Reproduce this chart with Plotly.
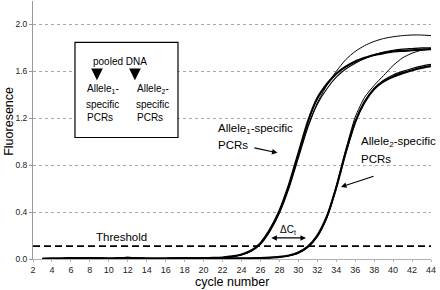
import plotly.graph_objects as go

cycles = list(range(3, 45))

base18 = [0.002, 0.003, 0.004, 0.006, 0.007, 0.006, 0.005, 0.004, 0.006,
          0.009, 0.006, 0.004, 0.003, 0.004, 0.005, 0.006, 0.006, 0.007]
base23 = base18 + [0.008, 0.006, 0.005, 0.005, 0.006]

allele1_a = base18 + [0.009, 0.013, 0.022, 0.038, 0.07, 0.135, 0.25, 0.41, 0.63, 0.90,
                      1.17, 1.37, 1.49, 1.58, 1.64, 1.685, 1.715, 1.74, 1.755, 1.77,
                      1.775, 1.78, 1.785, 1.79]
allele1_b = base18 + [0.008, 0.012, 0.02, 0.035, 0.065, 0.125, 0.235, 0.39, 0.60, 0.86,
                      1.12, 1.32, 1.45, 1.55, 1.62, 1.67, 1.71, 1.74, 1.765, 1.78,
                      1.79, 1.795, 1.80, 1.80]
allele1_c = base18 + [0.008, 0.012, 0.021, 0.037, 0.068, 0.13, 0.245, 0.40, 0.62, 0.88,
                      1.13, 1.33, 1.48, 1.60, 1.70, 1.77, 1.82, 1.855, 1.88, 1.895,
                      1.905, 1.91, 1.91, 1.905]

allele2_a = base23 + [0.008, 0.012, 0.018, 0.03, 0.055, 0.105, 0.20, 0.36, 0.61, 0.91,
                      1.17, 1.34, 1.45, 1.515, 1.555, 1.585, 1.61, 1.63, 1.645]
allele2_b = base23 + [0.007, 0.011, 0.017, 0.028, 0.05, 0.10, 0.19, 0.35, 0.60, 0.90,
                      1.16, 1.34, 1.455, 1.525, 1.57, 1.60, 1.625, 1.645, 1.66]
allele2_c = base23 + [0.007, 0.011, 0.017, 0.028, 0.05, 0.10, 0.19, 0.36, 0.62, 0.93,
                      1.21, 1.38, 1.48, 1.565, 1.65, 1.715, 1.755, 1.78, 1.79]

threshold = 0.11
x_ticks = list(range(2, 46, 2))
y_ticks = [0.0, 0.4, 0.8, 1.2, 1.6, 2.0]

FONT = "Arial, Liberation Sans, sans-serif"

fig = go.Figure()
series = [
    (allele1_a, 2.2), (allele1_b, 1.1), (allele1_c, 1.0),
    (allele2_a, 2.2), (allele2_b, 1.1), (allele2_c, 1.0),
]
for vals, w in series:
    fig.add_trace(go.Scatter(x=cycles, y=vals, mode="lines",
                             line=dict(color="black", width=w, shape="spline", smoothing=0.6),
                             showlegend=False, hoverinfo="skip"))

# threshold line
fig.add_shape(type="line", xref="x", yref="y", x0=2, x1=44, y0=threshold, y1=threshold,
              line=dict(color="black", width=1.6, dash="7px,4px"))

# inset box
fig.add_shape(type="rect", xref="x", yref="y", x0=6.43, x1=17.3, y0=1.036, y1=1.847,
              line=dict(color="black", width=1.2), fillcolor="white", layer="above")

ann = []
def txt(x, y, t, size=10, xanchor="left", **kw):
    ann.append(dict(x=x, y=y, xref="x", yref="y", text=t, showarrow=False,
                    font=dict(family=FONT, size=size, color="black"),
                    xanchor=xanchor, yanchor="middle", **kw))

txt(11.2, 1.685, "pooled DNA", 10, "center")
for col_x, sub in [(7.45, "1"), (12.75, "2")]:
    txt(col_x, 1.446, f"Allele<sub>{sub}</sub>-", 10)
    txt(col_x - 0.05, 1.317, "specific", 10)
    txt(col_x + 0.05, 1.206, "PCRs", 10)

# inset down arrows
for ax_ in [8.75, 12.76]:
    ann.append(dict(x=ax_, y=1.525, ax=ax_, ay=1.615, xref="x", yref="y", axref="x", ayref="y",
                    showarrow=True, arrowhead=2, arrowsize=0.9, arrowwidth=2.6, arrowcolor="black",
                    text=""))

txt(8.4, 0.19, "Threshold", 11.5)
txt(21.35, 1.11, "Allele<sub>1</sub>-specific", 11.5)
txt(21.35, 0.975, "PCRs", 11.5)
txt(36.4, 1.0, "Allele<sub>2</sub>-specific", 11.5)
txt(36.4, 0.85, "PCRs", 11.5)
txt(28.9, 0.25, "ΔC<sub>t</sub>", 10, "center")

# pointer arrows
ann.append(dict(x=27.8, y=0.905, ax=25.2, ay=0.95, xref="x", yref="y", axref="x", ayref="y",
                showarrow=True, arrowhead=2, arrowsize=1, arrowwidth=1.1, arrowcolor="black", text=""))
ann.append(dict(x=34.5, y=0.615, ax=38.1, ay=0.71, xref="x", yref="y", axref="x", ayref="y",
                showarrow=True, arrowhead=2, arrowsize=1, arrowwidth=1.1, arrowcolor="black", text=""))
# delta Ct double arrow
ann.append(dict(x=30.8, y=0.18, ax=27.0, ay=0.18, xref="x", yref="y", axref="x", ayref="y",
                showarrow=True, arrowhead=2, startarrowhead=2, arrowside="end+start",
                arrowsize=1, arrowwidth=1.1, arrowcolor="black", text=""))

# axis titles
ann.append(dict(x=23.0, y=0, xref="x", yref="paper", yshift=-22.5, text="cycle number",
                showarrow=False, font=dict(family=FONT, size=12.5, color="black"),
                xanchor="center", yanchor="middle"))
ann.append(dict(x=0, y=1.17, xref="paper", yref="y", xshift=-24, text="Fluoresence",
                showarrow=False, textangle=-90, font=dict(family=FONT, size=12.5, color="black"),
                xanchor="center", yanchor="middle"))

fig.update_layout(
    width=440, height=290,
    margin=dict(l=33, r=9, t=1, b=31, autoexpand=False),
    paper_bgcolor="white", plot_bgcolor="white",
    annotations=ann,
    font=dict(family=FONT, color="#222"),
)
fig.update_xaxes(range=[2, 44], tickvals=x_ticks, ticktext=[str(v) for v in x_ticks],
                 showgrid=False, zeroline=False, showline=True, linecolor="#b0b0b0", linewidth=1,
                 ticks="outside", ticklen=2, tickcolor="#b0b0b0",
                 tickfont=dict(family=FONT, size=9, color="#222"))
fig.update_yaxes(range=[0, 2.2], tickvals=y_ticks, ticktext=[f"{v:.1f}" for v in y_ticks],
                 showgrid=True, gridcolor="#a8a8a8", gridwidth=1, griddash="3px,3px",
                 zeroline=False, showline=True, linecolor="#999", linewidth=1,
                 ticks="outside", ticklen=3, tickcolor="#999",
                 tickfont=dict(family=FONT, size=8.5, color="#222"))

# remove the browser's default 8px body margin so the figure fills the window
fig.write_html("out.html",
               config={"displayModeBar": False, "staticPlot": True},
               post_script="document.body.style.margin='0';document.body.style.overflow='hidden';")
